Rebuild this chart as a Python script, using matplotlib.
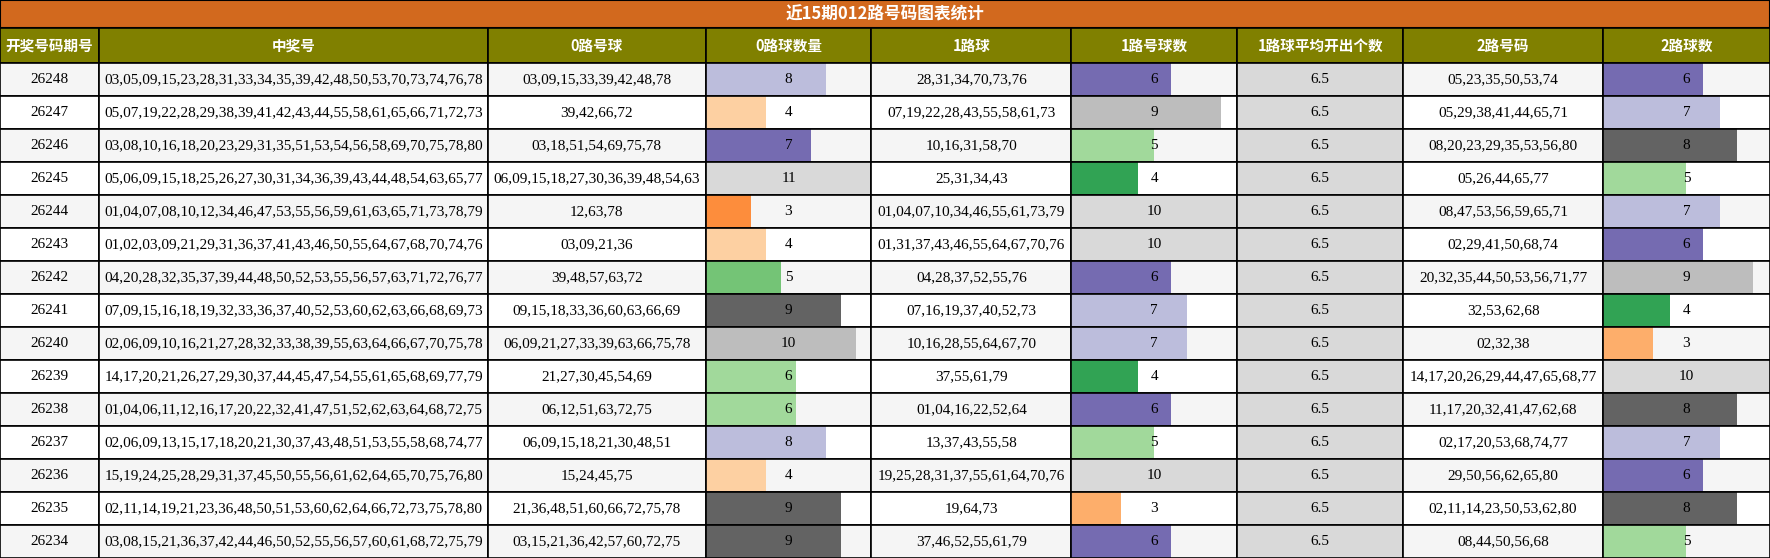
import matplotlib
matplotlib.use("Agg")
import matplotlib.pyplot as plt
from matplotlib.patches import Rectangle

title = "近15期012路号码图表统计"
headers = ["开奖号码期号", "中奖号", "0路号球", "0路球数量", "1路球", "1路号球数", "1路球平均开出个数", "2路号码", "2路球数"]
periods = ["26248","26247","26246","26245","26244","26243","26242","26241","26240","26239","26238","26237","26236","26235","26234"]
winning = [
"03,05,09,15,23,28,31,33,34,35,39,42,48,50,53,70,73,74,76,78",
"05,07,19,22,28,29,38,39,41,42,43,44,55,58,61,65,66,71,72,73",
"03,08,10,16,18,20,23,29,31,35,51,53,54,56,58,69,70,75,78,80",
"05,06,09,15,18,25,26,27,30,31,34,36,39,43,44,48,54,63,65,77",
"01,04,07,08,10,12,34,46,47,53,55,56,59,61,63,65,71,73,78,79",
"01,02,03,09,21,29,31,36,37,41,43,46,50,55,64,67,68,70,74,76",
"04,20,28,32,35,37,39,44,48,50,52,53,55,56,57,63,71,72,76,77",
"07,09,15,16,18,19,32,33,36,37,40,52,53,60,62,63,66,68,69,73",
"02,06,09,10,16,21,27,28,32,33,38,39,55,63,64,66,67,70,75,78",
"14,17,20,21,26,27,29,30,37,44,45,47,54,55,61,65,68,69,77,79",
"01,04,06,11,12,16,17,20,22,32,41,47,51,52,62,63,64,68,72,75",
"02,06,09,13,15,17,18,20,21,30,37,43,48,51,53,55,58,68,74,77",
"15,19,24,25,28,29,31,37,45,50,55,56,61,62,64,65,70,75,76,80",
"02,11,14,19,21,23,36,48,50,51,53,60,62,64,66,72,73,75,78,80",
"03,08,15,21,36,37,42,44,46,50,52,55,56,57,60,61,68,72,75,79"]
road0 = ["03,09,15,33,39,42,48,78","39,42,66,72","03,18,51,54,69,75,78","06,09,15,18,27,30,36,39,48,54,63","12,63,78","03,09,21,36","39,48,57,63,72","09,15,18,33,36,60,63,66,69","06,09,21,27,33,39,63,66,75,78","21,27,30,45,54,69","06,12,51,63,72,75","06,09,15,18,21,30,48,51","15,24,45,75","21,36,48,51,60,66,72,75,78","03,15,21,36,42,57,60,72,75"]
count0 = [8,4,7,11,3,4,5,9,10,6,6,8,4,9,9]
road1 = ["28,31,34,70,73,76","07,19,22,28,43,55,58,61,73","10,16,31,58,70","25,31,34,43","01,04,07,10,34,46,55,61,73,79","01,31,37,43,46,55,64,67,70,76","04,28,37,52,55,76","07,16,19,37,40,52,73","10,16,28,55,64,67,70","37,55,61,79","01,04,16,22,52,64","13,37,43,55,58","19,25,28,31,37,55,61,64,70,76","19,64,73","37,46,52,55,61,79"]
count1 = [6,9,5,4,10,10,6,7,7,4,6,5,10,3,6]
avg1 = [6.5]*15
road2 = ["05,23,35,50,53,74","05,29,38,41,44,65,71","08,20,23,29,35,53,56,80","05,26,44,65,77","08,47,53,56,59,65,71","02,29,41,50,68,74","20,32,35,44,50,53,56,71,77","32,53,62,68","02,32,38","14,17,20,26,29,44,47,65,68,77","11,17,20,32,41,47,62,68","02,17,20,53,68,74,77","29,50,56,62,65,80","02,11,14,23,50,53,62,80","08,44,50,56,68"]
count2 = [6,7,8,5,7,6,9,4,3,10,8,7,6,8,5]

col0_colors = {3:"#fd8d3c",4:"#fdd0a2",5:"#74c476",6:"#a1d99b",7:"#756bb1",8:"#bcbddc",9:"#636363",10:"#bdbdbd",11:"#d9d9d9"}
col12_colors = {3:"#fdae6b",4:"#31a354",5:"#a1d99b",6:"#756bb1",7:"#bcbddc",8:"#636363",9:"#bdbdbd",10:"#d9d9d9"}

W, H = 1770, 558
s = W/1568
bounds = [0,88,432,625,772,949,1096,1243,1420,1568]
bounds = [b*s for b in bounds]
title_h = 25*s; head_h = 31*s
row_h = (H - title_h - head_h)/15

fig = plt.figure(figsize=(W/100, H/100), dpi=100)
ax = fig.add_axes([0,0,1,1]); ax.set_xlim(0,W); ax.set_ylim(H,0); ax.axis("off")
cjk = ["Noto Sans CJK SC","DejaVu Sans"]
serif = ["Liberation Serif","DejaVu Serif"]

ax.add_patch(Rectangle((0,0),W,title_h,facecolor="#d2691e",edgecolor="black",lw=1.5))
ax.text(W/2,title_h/2,title,ha="center",va="center",color="white",fontsize=12,fontweight="bold",family=cjk)
for i,h in enumerate(headers):
    x0,x1 = bounds[i],bounds[i+1]
    ax.add_patch(Rectangle((x0,title_h),x1-x0,head_h,facecolor="#808000",edgecolor="black",lw=1.2))
    ax.text((x0+x1)/2,title_h+head_h/2,h,ha="center",va="center",color="white",fontsize=10.5,fontweight="bold",family=cjk)

for r in range(15):
    y0 = title_h+head_h+r*row_h
    bg = "#f5f5f5" if r%2==0 else "white"
    vals = [periods[r],winning[r],road0[r],count0[r],road1[r],count1[r],avg1[r],road2[r],count2[r]]
    for c,v in enumerate(vals):
        x0,x1 = bounds[c],bounds[c+1]; w = x1-x0
        ax.add_patch(Rectangle((x0,y0),w,row_h,facecolor=bg,edgecolor="none"))
        if c==3:
            ax.add_patch(Rectangle((x0,y0),w*v/11,row_h,facecolor=col0_colors[v],edgecolor="none"))
        elif c in (5,8):
            ax.add_patch(Rectangle((x0,y0),w*v/10,row_h,facecolor=col12_colors[v],edgecolor="none"))
        elif c==6:
            ax.add_patch(Rectangle((x0,y0),w,row_h,facecolor="#d9d9d9",edgecolor="none"))
        ax.add_patch(Rectangle((x0,y0),w,row_h,facecolor="none",edgecolor="black",lw=1.2))
        ax.text((x0+x1)/2,y0+row_h/2,str(v),ha="center",va="center",fontsize=11,family=serif,color="black")

fig.savefig("out.png",dpi=100)
